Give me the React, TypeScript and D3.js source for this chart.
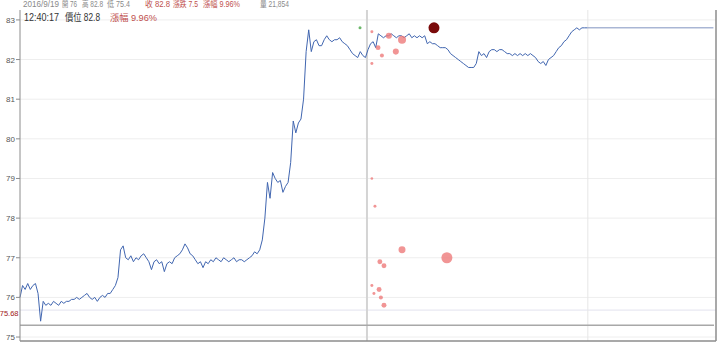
import React from "react";
import * as d3 from "d3";

// ---- data ----
const sessionStart = "09:00";
const sessionEnd = "13:30";
const quoteTime = "12:40:17";
const markerTime = "11:14:36";
const lastPrice = 82.8;
const prevClose = 75.3;
const refLevel = 75.68;
const yTicks = [75, 76, 77, 78, 79, 80, 81, 82, 83];

// one price per minute from 09:00
const priceByMinute = [
  76.0, 76.3, 76.2, 76.35, 76.2, 76.3, 76.35, 76.1, 75.4, 75.9,
  75.8, 75.85, 75.8, 75.9, 75.85, 75.8, 75.9, 75.85, 75.9, 75.9,
  75.95, 75.95, 76.0, 75.95, 76.0, 76.05, 76.1, 76.0, 75.95, 76.0,
  75.9, 76.0, 76.05, 76.0, 76.1, 76.1, 76.2, 76.3, 76.5, 77.2,
  77.3, 77.0, 76.95, 77.05, 76.9, 77.0, 76.95, 77.05, 77.1, 77.0,
  76.9, 76.7, 76.9, 76.95, 76.85, 76.9, 76.65, 76.85, 76.9, 76.85,
  77.0, 77.05, 77.1, 77.2, 77.35, 77.25, 77.1, 77.05, 76.95, 76.85,
  76.9, 76.75, 76.9, 76.85, 76.95, 76.9, 77.0, 76.95, 76.9, 77.0,
  76.95, 76.9, 76.95, 77.0, 76.9, 76.95, 76.95, 76.9, 76.95, 77.0,
  77.05, 77.15, 77.1, 77.2, 77.45, 78.0, 78.9, 78.5, 79.15, 79.0,
  78.9, 78.95, 78.65, 78.8, 78.9, 79.4, 80.45, 80.15, 80.4, 80.5,
  81.0, 82.2, 82.75, 82.2, 82.45, 82.5, 82.35, 82.35, 82.5, 82.6,
  82.5, 82.45, 82.5, 82.5, 82.55, 82.45, 82.4, 82.35, 82.25, 82.15,
  82.1, 82.05, 82.2, 82.1, 82.05, 82.25, 82.4, 82.45, 82.3, 82.65,
  82.6, 82.55, 82.6, 82.6, 82.65, 82.6, 82.55, 82.6, 82.6, 82.55,
  82.6, 82.65, 82.55, 82.6, 82.55, 82.6, 82.55, 82.6, 82.4, 82.45,
  82.4, 82.4, 82.35, 82.3, 82.3, 82.3, 82.25, 82.15, 82.1, 82.05,
  82.0, 81.95, 81.9, 81.85, 81.8, 81.8, 81.8, 81.9, 82.2, 82.1,
  82.15, 82.05, 82.2, 82.25, 82.25, 82.2, 82.25, 82.25, 82.2, 82.15,
  82.15, 82.1, 82.15, 82.1, 82.15, 82.1, 82.15, 82.1, 82.15, 82.1,
  82.05, 81.95, 81.9, 81.95, 81.85, 82.0, 82.05, 82.1, 82.2, 82.3,
  82.35, 82.45, 82.5, 82.6, 82.7, 82.75, 82.8, 82.75, 82.8, 82.8, 82.8,
];

// trade bubbles
const bubbleTimes = [
  "11:16:30", "11:18:54", "11:20:24", "11:23:06", "11:25:48", "11:28:12",
  "11:16:30", "11:17:42", "11:16:30", "11:28:12", "11:19:36", "11:21:12",
  "11:16:30", "11:19:18", "11:17:18", "11:20:00", "11:21:12", "11:45:36",
];
const bubblePrices = [
  82.7, 82.3, 82.1, 82.6, 82.2, 82.5,
  81.9, 78.3, 79.0, 77.2, 76.9, 76.8,
  76.3, 76.2, 76.1, 76.0, 75.8, 77.0,
];
const bubbleVolumes = [
  22, 60, 40, 90, 90, 160,
  22, 22, 17, 120, 60, 60,
  22, 60, 22, 40, 60, 300,
];
const bigTradeTime = "11:40:36";
const bigTradePrice = 82.8;
const bigTradeVolume = 300;
const buyTickTime = "11:11:54";
const buyTickPrice = 82.8;

const headerItems = [
  { text: "2016/9/19", color: "#8a8a8a" },
  { text: "開 76", color: "#8a8a8a" },
  { text: "高 82.8", color: "#8a8a8a" },
  { text: "低 75.4", color: "#8a8a8a" },
  { text: "收 82.8", color: "#c0504d" },
  { text: "漲跌 7.5", color: "#c0504d" },
  { text: "漲幅 9.96%", color: "#c0504d" },
  { text: "量 21,854", color: "#8a8a8a" },
];
const headerX = [23, 62, 82, 107, 145, 173, 203, 260];
const headerW = [36, 15, 21, 23, 25, 25, 37, 29];

const infoItems = [
  { text: "12:40:17", color: "#333333" },
  { text: "價位 82.8", color: "#333333" },
  { text: "漲幅 9.96%", color: "#c0504d" },
];
const infoX = [24, 65, 110];
const infoW = [35, 35, 47];

// ---- helpers ----
const toMin = (s: string) => {
  const p = s.split(":").map(Number);
  return (p[0] - 9) * 60 + p[1] + (p[2] || 0) / 60;
};

const W = 720;
const H = 346;
const left = 20;
const right = 716;
const top = 10;
const bottom = 341;
const FONT = "'Liberation Sans', 'Noto Sans CJK TC', sans-serif";

export default function App() {
  const x = d3.scaleLinear().domain([toMin(sessionStart), toMin(sessionEnd)]).range([left, right]);
  const y = d3.scaleLinear().domain([74.9, 83.25]).range([bottom, top]);
  const r = d3.scaleSqrt().domain([0, 300]).range([0, 5.5]);

  const line = d3
    .line<number>()
    .x((_, i) => x(i))
    .y((d) => y(d))
    .curve(d3.curveLinear);
  const pricePath = line(priceByMinute) || "";

  const lastT = priceByMinute.length - 1;

  return (
    <svg
      width={W}
      height={H}
      style={{ position: "absolute", left: 0, top: 0, background: "#fff" }}
      fontFamily={FONT}
    >
      {/* horizontal gridlines */}
      {yTicks.map((t) => (
        <line key={"g" + t} x1={left} x2={right} y1={y(t)} y2={y(t)} stroke="#eeeeee" strokeWidth={1} />
      ))}
      <line x1={left} x2={right} y1={y(refLevel)} y2={y(refLevel)} stroke="#e2e2ee" strokeWidth={1} />
      {/* vertical gridlines */}
      <line x1={x(toMin(quoteTime))} x2={x(toMin(quoteTime))} y1={top} y2={bottom} stroke="#e6e6e6" strokeWidth={1} />
      <line x1={x(toMin(markerTime))} x2={x(toMin(markerTime))} y1={top} y2={bottom} stroke="#d4d4d4" strokeWidth={2} />
      {/* previous close */}
      <line x1={left} x2={right - 2} y1={y(prevClose)} y2={y(prevClose)} stroke="#a8a8a8" strokeWidth={1.5} />

      {/* price line */}
      <path d={pricePath} fill="none" stroke="#4166b0" strokeWidth={1} />
      <line
        x1={x(lastT)}
        x2={x(toMin("13:29"))}
        y1={y(lastPrice)}
        y2={y(lastPrice)}
        stroke="#7f93bf"
        strokeWidth={1}
      />

      {/* bubbles */}
      {bubbleTimes.map((t, i) => (
        <circle
          key={"b" + i}
          cx={x(toMin(t))}
          cy={y(bubblePrices[i])}
          r={r(bubbleVolumes[i])}
          fill="#ee7b7b"
          fillOpacity={0.8}
        />
      ))}
      <circle cx={x(toMin(bigTradeTime))} cy={y(bigTradePrice)} r={r(bigTradeVolume)} fill="#7a0a0a" />
      <circle cx={x(toMin(buyTickTime))} cy={y(buyTickPrice)} r={1.5} fill="#6cb86a" />

      {/* axes / frame */}
      <line x1={left} x2={left} y1={top} y2={bottom} stroke="#8c8c8c" strokeWidth={1} />
      <line x1={left} x2={right} y1={bottom} y2={bottom} stroke="#8c8c8c" strokeWidth={1.5} />
      <line x1={right} x2={right} y1={top} y2={bottom} stroke="#8c8c8c" strokeWidth={1.5} />
      {yTicks.map((t) => (
        <g key={"t" + t}>
          <line x1={left - 4} x2={left} y1={y(t)} y2={y(t)} stroke="#8c8c8c" />
          <text x={15} y={y(t) + 3} textAnchor="end" fontSize={8} fill="#555">
            {t}
          </text>
        </g>
      ))}
      <text x={18.5} y={y(refLevel) + 6} textAnchor="end" fontSize={7.5} fill="#a02020">
        {refLevel}
      </text>

      {/* header */}
      {headerItems.map((h, i) => (
        <text
          key={"h" + i}
          x={headerX[i]}
          y={6.5}
          fontSize={8.5}
          fill={h.color}
          textLength={headerW[i]}
          lengthAdjust="spacingAndGlyphs"
        >
          {h.text}
        </text>
      ))}
      {infoItems.map((h, i) => (
        <text
          key={"i" + i}
          x={infoX[i]}
          y={21}
          fontSize={i === 2 ? 9.5 : 10.5}
          fill={h.color}
          textLength={infoW[i]}
          lengthAdjust="spacingAndGlyphs"
        >
          {h.text}
        </text>
      ))}
    </svg>
  );
}
